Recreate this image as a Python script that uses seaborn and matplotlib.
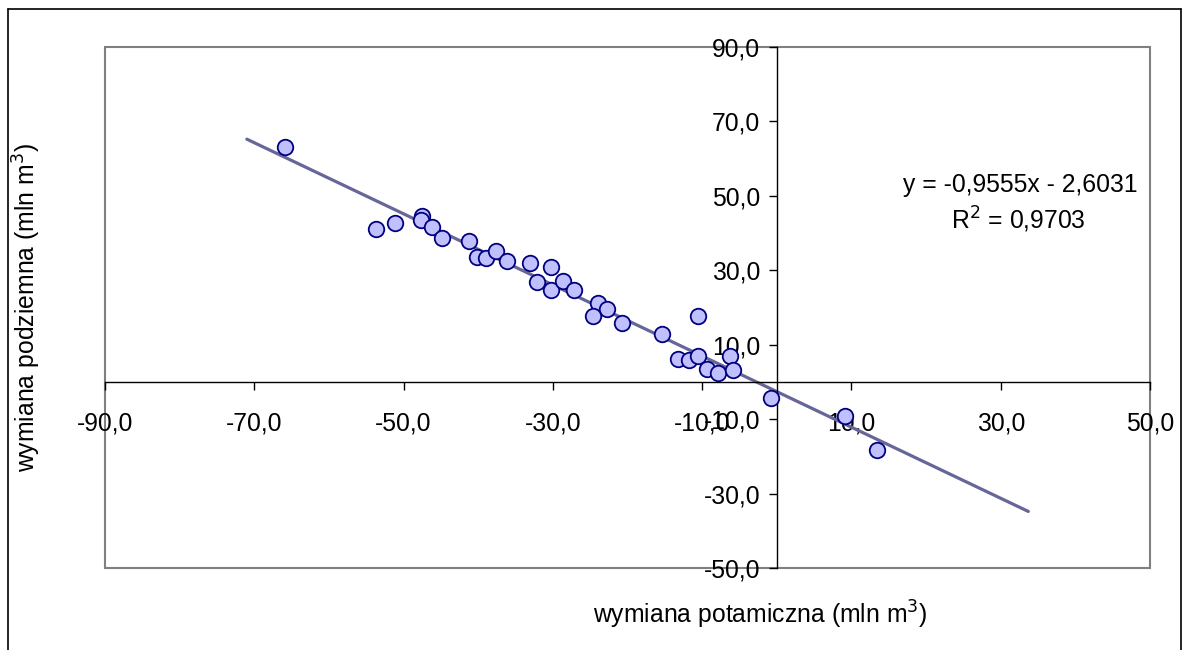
import numpy as np
import pandas as pd
import matplotlib
matplotlib.use("Agg")
import matplotlib.pyplot as plt
import seaborn as sns
from matplotlib.lines import Line2D
from matplotlib.patches import Rectangle
from matplotlib.ticker import FuncFormatter

# Data
potamic = [-65.9, -53.7, -51.1, -47.5, -47.6, -46.2, -44.8, -41.3, -40.1, -38.9,
           -37.6, -36.2, -33.0, -30.2, -32.1, -30.3, -28.6, -27.2, -24.0, -22.8,
           -24.6, -20.7, -15.4, -10.6, -13.3, -11.8, -10.6, -9.3, -7.9, -6.3,
           -5.8, -0.8, 9.1, 13.4]
underground = [63.2, 41.0, 42.8, 44.7, 43.4, 41.5, 38.8, 38.0, 33.7, 33.2,
               35.1, 32.4, 31.9, 31.0, 26.8, 24.6, 27.0, 24.6, 21.1, 19.5,
               17.7, 15.8, 12.8, 17.7, 6.2, 5.9, 7.0, 3.5, 2.4, 7.0,
               3.2, -4.3, -9.1, -18.2]

# trendline (Excel linear fit with forecast)
slope = -0.9555
intercept = -2.6031
r_squared = 0.9703
trend_x = [-71.0, 33.7]

x_ticks = [-90, -70, -50, -30, -10, 10, 30, 50]
y_ticks = [-50, -30, -10, 10, 30, 50, 70, 90]

df = pd.DataFrame({"x": potamic, "y": underground})
trend = pd.DataFrame({"x": trend_x, "y": [slope * v + intercept for v in trend_x]})

sns.set_style("white")
plt.rcParams["font.family"] = ["Liberation Sans", "DejaVu Sans"]
plt.rcParams["text.color"] = "black"
plt.rcParams["axes.labelcolor"] = "black"
FS = 17.8

fig = plt.figure(figsize=(11.9, 6.5), dpi=100)
ax = fig.add_axes([105 / 1190, (650 - 568) / 650, 1045 / 1190, 521 / 650])

sns.lineplot(data=trend, x="x", y="y", ax=ax, color="#666699", linewidth=2.3, zorder=2)
sns.scatterplot(data=df, x="x", y="y", ax=ax, s=125, color="#C0C0FF",
                edgecolor="#000080", linewidth=1.3, zorder=3)

ax.set_xlim(-90, 50)
ax.set_ylim(-50, 90)
ax.set_xticks(x_ticks)
ax.set_yticks(y_ticks)
fmt = FuncFormatter(lambda v, p: f"{v:.1f}".replace(".", ","))
ax.xaxis.set_major_formatter(fmt)
ax.yaxis.set_major_formatter(fmt)

# axes crossing at zero
for side in ["top", "right"]:
    ax.spines[side].set_visible(False)
ax.spines["left"].set_position(("data", 0))
ax.spines["bottom"].set_position(("data", 0))
for side in ["left", "bottom"]:
    ax.spines[side].set_color("black")
    ax.spines[side].set_linewidth(1.0)
ax.tick_params(axis="x", direction="out", length=6, width=1, pad=15,
               labelsize=FS, colors="black", bottom=True)
ax.tick_params(axis="y", direction="out", length=6, width=1, pad=6,
               labelsize=FS, colors="black", left=True)

# gray plot-area frame
ax.add_patch(Rectangle((0, 0), 1, 1, transform=ax.transAxes, fill=False,
                       edgecolor="#808080", linewidth=1.5, clip_on=False, zorder=0))

ax.set_xlabel("wymiana potamiczna (mln m$^3$)", fontsize=FS, va="center", ha="center")
ax.set_ylabel("wymiana podziemna (mln m$^3$)", fontsize=FS, va="center", ha="center")
ax.xaxis.set_label_coords(0.627, -0.09)
ax.yaxis.set_label_coords(-0.075, 0.5)

eq = f"y = {slope:.4f}x - {abs(intercept):.4f}".replace(".", ",")
ax.text(0.876, 0.735, eq, transform=ax.transAxes, ha="center", va="center", fontsize=FS)
ax.text(0.874, 0.668, f"R$^2$ = {r_squared:.4f}".replace(".", ","), transform=ax.transAxes,
        ha="center", va="center", fontsize=FS)

# outer chart border
x0, x1, y1 = 7.5 / 1190, 1181 / 1190, 1 - 9 / 650
for xs, ys in [([x0, x0], [0, y1]), ([x0, x1], [y1, y1]), ([x1, x1], [0, y1])]:
    fig.add_artist(Line2D(xs, ys, color="black", linewidth=1.2, transform=fig.transFigure))

fig.savefig("out.png", dpi=100)
